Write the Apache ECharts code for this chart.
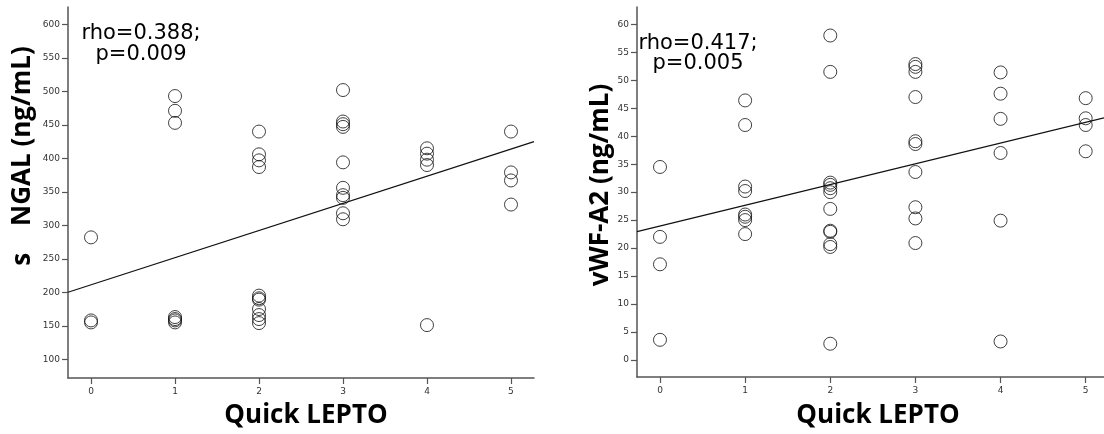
<!DOCTYPE html>
<html>
<head>
<meta charset="utf-8">
<script src="https://cdn.jsdelivr.net/npm/echarts@6/dist/echarts.min.js"></script>
<style>html,body{margin:0;padding:0;background:#fff}#c{width:1104px;height:434px}</style>
</head>
<body>
<div id="c"></div>
<script>
// Quick LEPTO score categories
const leptoScores = [0, 1, 2, 3, 4, 5];
const xTickLabels = ['0', '1', '2', '3', '4', '5'];
const ngalTicks = [100, 150, 200, 250, 300, 350, 400, 450, 500, 550, 600];
const vwfTicks = [0, 5, 10, 15, 20, 25, 30, 35, 40, 45, 50, 55, 60];

// NGAL values per Quick LEPTO score
const ngal0 = [282, 158, 155];
const ngal1 = [493, 471, 453, 163, 160, 158, 155];
const ngal2 = [440, 406, 397, 387, 195, 191, 189, 175, 166, 160, 154];
const ngal3 = [502, 455, 451, 447, 394, 356, 345, 341, 318, 309];
const ngal4 = [415, 407, 398, 390, 151];
const ngal5 = [440, 379, 367, 331];

// vWF-A2 values per Quick LEPTO score
const vwf0 = [34.5, 22.0, 17.1, 3.6];
const vwf1 = [46.4, 42.0, 31.0, 30.2, 26.0, 25.6, 25.0, 22.5];
const vwf2 = [58.0, 51.5, 31.7, 31.3, 30.7, 30.0, 27.0, 23.1, 22.9, 20.7, 20.2, 2.9];
const vwf3 = [52.9, 52.4, 51.5, 47.0, 39.1, 38.6, 33.6, 27.3, 25.3, 20.9];
const vwf4 = [51.4, 47.6, 43.1, 37.0, 24.9, 3.3];
const vwf5 = [46.8, 43.2, 42.0, 37.3];

// fitted lines: [intercept, slope]
const ngalFit = [211.1, 40.56];
const vwfFit = [23.95, 3.71];

// annotations
const ngalStats = ['rho=0.388;', 'p=0.009'];
const vwfStats = ['rho=0.417;', 'p=0.005'];

const ngalGroups = [ngal0, ngal1, ngal2, ngal3, ngal4, ngal5];
const vwfGroups = [vwf0, vwf1, vwf2, vwf3, vwf4, vwf5];

function toPoints(groups) {
  const pts = [];
  groups.forEach((g, i) => g.forEach(v => pts.push([leptoScores[i], v])));
  return pts;
}
function fitLine(fit, x0, x1) {
  return [[x0, fit[0] + fit[1] * x0], [x1, fit[0] + fit[1] * x1]];
}

const L = { xMin: -0.274, xMax: 5.274, yMin: 72, yMax: 626 };
const R = { xMin: -0.27, xMax: 5.215, yMin: -3.05, yMax: 63.1 };

const axisCommon = {
  axisLine: { show: true, onZero: false, lineStyle: { color: '#555', width: 1.5 } },
  axisTick: { show: true, inside: false, length: 6, lineStyle: { color: '#555', width: 1.2 } },
  splitLine: { show: false },
};
function xAx(gi, r) {
  return Object.assign({}, axisCommon, {
    type: 'value', gridIndex: gi, min: r.xMin, max: r.xMax,
    axisTick: Object.assign({}, axisCommon.axisTick, { customValues: leptoScores }),
    axisLabel: { customValues: leptoScores, formatter: v => xTickLabels[leptoScores.indexOf(v)] ?? '', fontSize: 9, color: '#333', fontFamily: 'DejaVu Sans', margin: 9 },
  });
}
function yAx(gi, r, ticks) {
  return Object.assign({}, axisCommon, {
    type: 'value', gridIndex: gi, min: r.yMin, max: r.yMax,
    axisTick: Object.assign({}, axisCommon.axisTick, { customValues: ticks }),
    axisLabel: { customValues: ticks, fontSize: 9, color: '#333', fontFamily: 'DejaVu Sans', margin: 8 },
  });
}
const scatterStyle = {
  type: 'scatter', symbol: 'circle', symbolSize: 13,
  itemStyle: { color: 'rgba(0,0,0,0)', borderColor: '#111', borderWidth: 1 },
  emphasis: { disabled: true }, silent: true,
};
const lineStyle = {
  type: 'line', symbol: 'none', lineStyle: { color: '#111', width: 1.2 },
  silent: true, emphasis: { disabled: true },
};

const titleFont = { fontFamily: 'Open Sans', fontWeight: 'bold', fontSize: 26, fill: '#000' };
const statFont = { fontFamily: 'DejaVu Sans', fontSize: 21, fill: '#000' };

const chart = echarts.init(document.getElementById('c'), null, { renderer: 'canvas' });
chart.setOption({
  animation: false,
  backgroundColor: '#fff',
  grid: [
    { left: 68, top: 7, right: 570, bottom: 56 },
    { left: 637, top: 7, right: 0, bottom: 57 },
  ],
  xAxis: [xAx(0, L), xAx(1, R)],
  yAxis: [yAx(0, L, ngalTicks), yAx(1, R, vwfTicks)],
  series: [
    Object.assign({}, lineStyle, { xAxisIndex: 0, yAxisIndex: 0, data: fitLine(ngalFit, L.xMin, L.xMax) }),
    Object.assign({}, scatterStyle, { xAxisIndex: 0, yAxisIndex: 0, data: toPoints(ngalGroups) }),
    Object.assign({}, lineStyle, { xAxisIndex: 1, yAxisIndex: 1, data: fitLine(vwfFit, R.xMin, R.xMax) }),
    Object.assign({}, scatterStyle, { xAxisIndex: 1, yAxisIndex: 1, data: toPoints(vwfGroups) }),
  ],
  graphic: [
    { type: 'text', x: 141, y: 34, style: Object.assign({ text: ngalStats[0], align: 'center', verticalAlign: 'middle' }, statFont) },
    { type: 'text', x: 141, y: 55, style: Object.assign({ text: ngalStats[1], align: 'center', verticalAlign: 'middle' }, statFont) },
    { type: 'text', x: 698, y: 44, style: Object.assign({ text: vwfStats[0], align: 'center', verticalAlign: 'middle' }, statFont) },
    { type: 'text', x: 698, y: 64, style: Object.assign({ text: vwfStats[1], align: 'center', verticalAlign: 'middle' }, statFont) },
    { type: 'text', x: 306, y: 416, style: Object.assign({ text: 'Quick LEPTO', align: 'center', verticalAlign: 'middle' }, titleFont) },
    { type: 'text', x: 878, y: 416, style: Object.assign({ text: 'Quick LEPTO', align: 'center', verticalAlign: 'middle' }, titleFont) },
    { type: 'text', x: 23, y: 156, rotation: Math.PI / 2, style: Object.assign({ text: 's    NGAL (ng/mL)', align: 'center', verticalAlign: 'middle' }, titleFont) },
    { type: 'text', x: 601, y: 185, rotation: Math.PI / 2, style: Object.assign({ text: 'vWF-A2 (ng/mL)', align: 'center', verticalAlign: 'middle' }, titleFont) },
  ],
});
</script>
</body>
</html>
